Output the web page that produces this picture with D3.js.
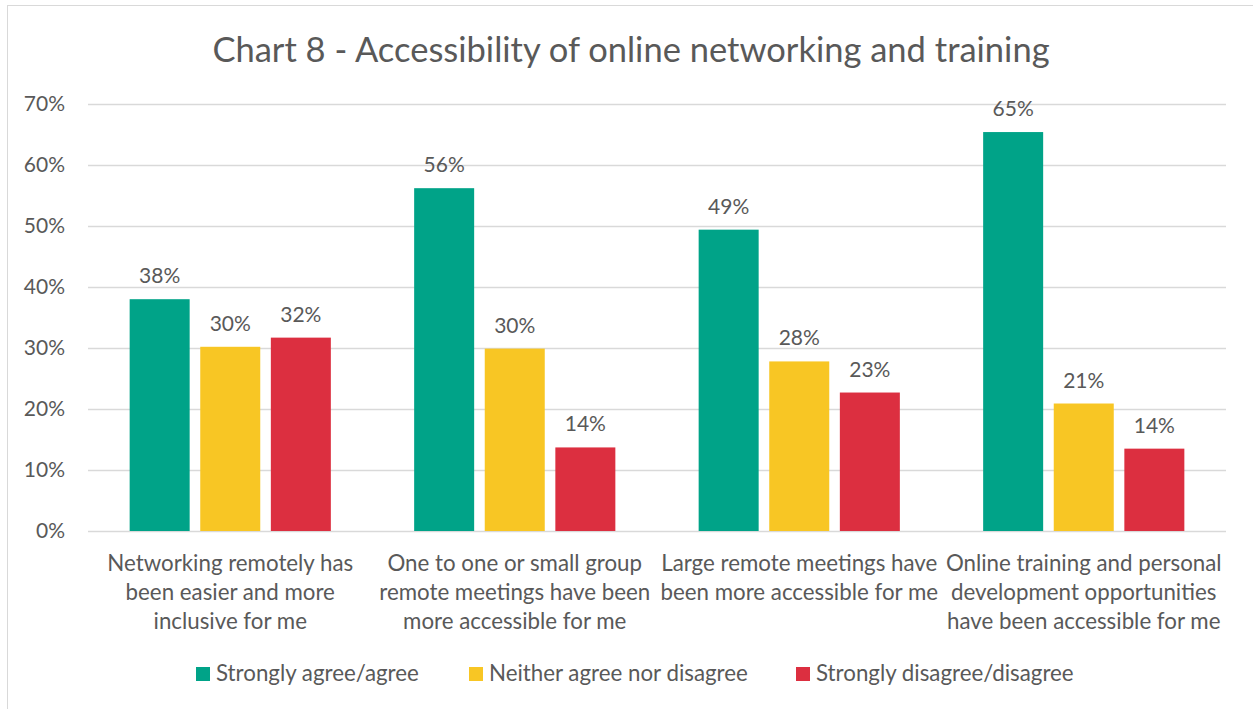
<!DOCTYPE html>
<html lang="en">
<head>
    <meta charset="UTF-8">
    <title>Chart 8 - Accessibility of online networking and training</title>
    <script src="https://d3js.org/d3.v7.min.js"></script>
    <style>
        body { margin: 0; background: #fff; }
        text { font-family: Lato, "Open Sans", sans-serif; fill: #595959; }
    </style>
</head>
<body>
    <div id="chart-container"></div>
    <script>
        const categories = [
            ["Networking remotely has", "been easier and more", "inclusive for me"],
            ["One to one or small group", "remote meetings have been", "more accessible for me"],
            ["Large remote meetings have", "been more accessible for me"],
            ["Online training and personal", "development opportunities", "have been accessible for me"]
        ];
        const seriesNames = ["Strongly agree/agree", "Neither agree nor disagree", "Strongly disagree/disagree"];
        const seriesColors = ["#00a388", "#f8c624", "#dc2f40"];
        const agree = [0.380, 0.562, 0.494, 0.654];
        const neither = [0.302, 0.299, 0.278, 0.209];
        const disagree = [0.317, 0.137, 0.227, 0.135];
        const yTicks = [0, 0.1, 0.2, 0.3, 0.4, 0.5, 0.6, 0.7];

        const width = 1253;
        const height = 709;
        const plot = { left: 88, right: 1226, top: 104, bottom: 531 };

        const svg = d3.select("#chart-container")
            .append("svg")
            .attr("width", width)
            .attr("height", height);

        // chart area border (only top and left are in frame)
        svg.append("rect")
            .attr("x", 7.5)
            .attr("y", 5.5)
            .attr("width", width)
            .attr("height", height)
            .style("fill", "none")
            .style("stroke", "#d9d9d9");

        svg.append("text")
            .attr("x", 631)
            .attr("y", 62)
            .attr("text-anchor", "middle")
            .style("font-size", "34.5px")
            .text("Chart 8 - Accessibility of online networking and training");

        const x0 = d3.scaleBand()
            .domain(d3.range(categories.length))
            .range([plot.left, plot.right]);

        const x1 = d3.scaleBand()
            .domain(d3.range(seriesNames.length))
            .range([0, x0.bandwidth()])
            .paddingInner(0.15)
            .paddingOuter(0.59);

        const y = d3.scaleLinear()
            .domain([0, 0.7])
            .range([plot.bottom, plot.top]);

        const yAxis = svg.append("g")
            .attr("transform", `translate(${plot.left},0)`)
            .call(d3.axisLeft(y)
                .tickValues(yTicks)
                .tickFormat(d3.format(".0%"))
                .tickSize(-(plot.right - plot.left))
                .tickPadding(23));
        yAxis.select(".domain").remove();
        yAxis.selectAll(".tick line")
            .style("stroke", "#d9d9d9")
            .style("stroke-width", "1.3px");
        yAxis.selectAll(".tick text")
            .style("font-size", "21px")
            .style("fill", "#595959")
            .style("font-family", "Lato, sans-serif");

        const values = [agree, neither, disagree];
        const rows = [];
        values.forEach((series, s) => {
            series.forEach((v, c) => rows.push({ c: c, s: s, v: v }));
        });

        svg.append("g").selectAll("rect")
            .data(rows)
            .join("rect")
            .attr("x", d => x0(d.c) + x1(d.s))
            .attr("y", d => y(d.v))
            .attr("width", x1.bandwidth())
            .attr("height", d => y(0) - y(d.v))
            .style("fill", d => seriesColors[d.s]);

        svg.append("g").selectAll("text")
            .data(rows)
            .join("text")
            .attr("x", d => x0(d.c) + x1(d.s) + x1.bandwidth() / 2)
            .attr("y", d => y(d.v) - 16)
            .attr("text-anchor", "middle")
            .style("font-size", "21px")
            .text(d => d3.format(".0%")(d.v));

        const catLabels = svg.append("g").selectAll("text")
            .data(categories)
            .join("text")
            .attr("x", (d, i) => x0(i) + x0.bandwidth() / 2)
            .attr("y", 571)
            .attr("text-anchor", "middle")
            .style("font-size", "22.3px");
        catLabels.selectAll("tspan")
            .data(d => d)
            .join("tspan")
            .attr("x", function () { return this.parentNode.getAttribute("x"); })
            .attr("dy", (d, i) => i === 0 ? 0 : 29)
            .text(d => d);

        const legendX = [196, 469, 796];
        const legend = svg.append("g").selectAll("g")
            .data(seriesNames)
            .join("g")
            .attr("transform", (d, i) => `translate(${legendX[i]},667)`);
        legend.append("rect")
            .attr("width", 14)
            .attr("height", 14)
            .style("fill", (d, i) => seriesColors[i]);
        legend.append("text")
            .attr("x", 20)
            .attr("y", 14)
            .style("font-size", "22.3px")
            .text(d => d);
    </script>
</body>
</html>
